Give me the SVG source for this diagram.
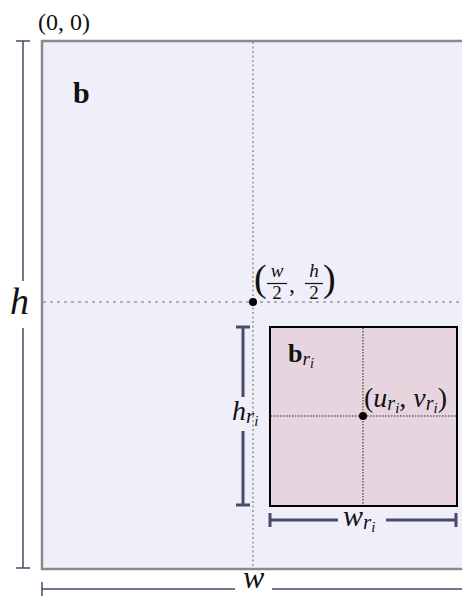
<svg xmlns="http://www.w3.org/2000/svg" width="462" height="596" viewBox="0 0 462 596">
<style>
.m{font-family:"Liberation Serif","DejaVu Serif",serif;fill:#111}
.it{font-style:italic}
.bd{font-weight:bold}
.dim{stroke:#4a4a68;fill:none}
</style>
<rect x="0" y="0" width="462" height="596" fill="#ffffff"/>
<g id="image">
<rect x="42" y="41" width="440" height="528" fill="#efeff9" stroke="#8a8a8a" stroke-width="2.5"/>
</g>
<g id="roi">
<rect x="270" y="327" width="187" height="179" fill="#e6d4df" stroke="#000" stroke-width="2"/>
</g>
<g id="connectors">
<line x1="253" y1="42" x2="253" y2="568" stroke="#9a9a9a" stroke-width="1.6" stroke-dasharray="2 2.5"/>
<line x1="43" y1="302" x2="462" y2="302" stroke="#9a9a9a" stroke-width="1.6" stroke-dasharray="3 4"/>
<line x1="363" y1="328" x2="363" y2="505" stroke="#222" stroke-width="1" stroke-dasharray="1.5 1.5"/>
<line x1="271" y1="416" x2="456" y2="416" stroke="#222" stroke-width="1" stroke-dasharray="1.5 1.5"/>
<path class="dim" stroke-width="1.5" d="M23 41V281M23 328V568M16 41H30M16 568H30"/>
<path class="dim" stroke-width="1.5" d="M42 589H235M272 589H462M42 582V596"/>
<path class="dim" stroke-width="3" d="M243 327V397M243 431V505M236 327H250M236 505H250"/>
<path class="dim" stroke-width="3" d="M270 520H338M386 520H456M270 513V527M456 513V527"/>
</g>
<g id="points">
<circle cx="253" cy="302" r="4" fill="#000"/>
<circle cx="363" cy="416" r="4" fill="#000"/>
</g>
<g id="labels">
<text class="m" x="38" y="30" font-size="24">(0, 0)</text>
<text class="m bd" x="73" y="103" font-size="30">b</text>
<text class="m it" x="10" y="314" font-size="38">h</text>
<text class="m" x="254" y="291" font-size="38">(</text>
<text class="m it" x="277" y="277" font-size="19" text-anchor="middle">w</text>
<line x1="267" y1="283.5" x2="287" y2="283.5" stroke="#111" stroke-width="1.2"/>
<text class="m" x="277" y="299" font-size="19" text-anchor="middle">2</text>
<text class="m" x="289" y="292" font-size="24">,</text>
<text class="m it" x="314" y="277" font-size="19" text-anchor="middle">h</text>
<line x1="305" y1="283.5" x2="323" y2="283.5" stroke="#111" stroke-width="1.2"/>
<text class="m" x="314" y="299" font-size="19" text-anchor="middle">2</text>
<text class="m" x="323" y="291" font-size="38">)</text>
<text class="m" x="288" y="362"><tspan class="bd" font-size="26">b</tspan><tspan class="it" font-size="19" dy="3">r</tspan><tspan class="it" font-size="14" dy="3">i</tspan></text>
<text class="m" x="364" y="407"><tspan font-size="28">(</tspan><tspan class="it" font-size="28">u</tspan><tspan class="it" font-size="20" dy="3">r</tspan><tspan class="it" font-size="15" dy="3">i</tspan><tspan font-size="28" dy="-6">, </tspan><tspan class="it" font-size="28">v</tspan><tspan class="it" font-size="20" dy="3">r</tspan><tspan class="it" font-size="15" dy="3">i</tspan><tspan font-size="28" dy="-6">)</tspan></text>
<text class="m" x="232" y="420"><tspan class="it" font-size="28">h</tspan><tspan class="it" font-size="21" dy="3">r</tspan><tspan class="it" font-size="15" dy="3">i</tspan></text>
<text class="m" x="343" y="526"><tspan class="it" font-size="30">w</tspan><tspan class="it" font-size="21" dy="3">r</tspan><tspan class="it" font-size="15" dy="3">i</tspan></text>
<text class="m it" x="243" y="588" font-size="32">w</text>
</g>
</svg>
